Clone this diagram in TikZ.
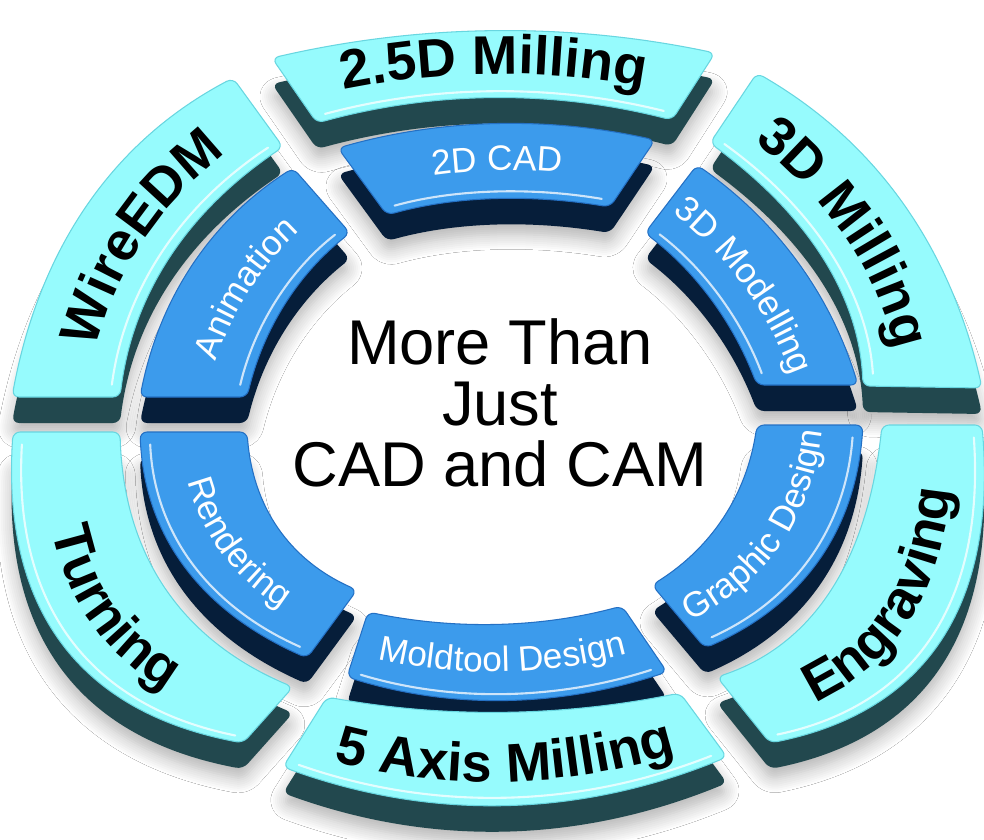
\documentclass[tikz,border=0pt]{standalone}
\usepackage{fontspec}
\setmainfont{Liberation Sans}
\usetikzlibrary{calc, positioning, decorations.text, shadows.blur}

\definecolor{cam-top}{RGB}{150,251,253}
\definecolor{cam-edge}{RGB}{104,214,224}
\definecolor{cam-wall}{RGB}{34,72,78}
\definecolor{cad-top}{RGB}{60,155,236}
\definecolor{cad-edge}{RGB}{36,112,196}
\definecolor{cad-wall}{RGB}{6,30,58}

\tikzstyle{cam-face} = [fill=cam-top, draw=cam-edge, line width=0.6pt, rounded corners=4pt]
\tikzstyle{cam-side} = [fill=cam-wall, rounded corners=4pt, transform canvas={yshift=-0.52cm}]
\tikzstyle{cad-face} = [fill=cad-top, draw=cad-edge, line width=0.6pt, rounded corners=4pt]
\tikzstyle{cad-side} = [fill=cad-wall, rounded corners=4pt, transform canvas={yshift=-0.52cm}]
\tikzstyle{drop-shadow} = [
  rounded corners=4pt,
  blur shadow={shadow xshift=0pt, shadow yshift=-0.72cm, shadow blur radius=0.3cm, shadow blur steps=8, shadow opacity=30}
]
\tikzstyle{glint} = [draw=white, opacity=0.75, line width=1.2pt, line cap=round, shorten <=0.25cm, shorten >=0.25cm]

\newcommand{\camfont}{\fontsize{31}{36}\selectfont\bfseries}
\newcommand{\cadfont}{\fontsize{20}{24}\selectfont}

\newcommand{\setseg}[7]{%
  \coordinate (#1-oa) at (#2); \coordinate (#1-om) at (#3); \coordinate (#1-ob) at (#4);
  \coordinate (#1-ia) at (#5); \coordinate (#1-im) at (#6); \coordinate (#1-ib) at (#7);}

\newcommand{\ringshadow}[1]{%
  \path[drop-shadow] (#1-oa) .. controls ($1.3333*(#1-om)-0.3333*(#1-ob)$) and ($1.3333*(#1-om)-0.3333*(#1-oa)$) .. (#1-ob)
    -- (#1-ib) .. controls ($1.3333*(#1-im)-0.3333*(#1-ia)$) and ($1.3333*(#1-im)-0.3333*(#1-ib)$) .. (#1-ia) -- cycle;}

\newcommand{\ringpiece}[4]{%
  \path[#2-side] (#1-oa) .. controls ($1.3333*(#1-om)-0.3333*(#1-ob)$) and ($1.3333*(#1-om)-0.3333*(#1-oa)$) .. (#1-ob)
    -- (#1-ib) .. controls ($1.3333*(#1-im)-0.3333*(#1-ia)$) and ($1.3333*(#1-im)-0.3333*(#1-ib)$) .. (#1-ia) -- cycle;
  \path[#2-face] (#1-oa) .. controls ($1.3333*(#1-om)-0.3333*(#1-ob)$) and ($1.3333*(#1-om)-0.3333*(#1-oa)$) .. (#1-ob)
    -- (#1-ib) .. controls ($1.3333*(#1-im)-0.3333*(#1-ia)$) and ($1.3333*(#1-im)-0.3333*(#1-ib)$) .. (#1-ia) -- cycle;
  \coordinate (#1-ha) at ($(#1-#3a)!0.09!(#1-#4a)$);
  \coordinate (#1-hm) at ($(#1-#3m)!0.09!(#1-#4m)$);
  \coordinate (#1-hb) at ($(#1-#3b)!0.09!(#1-#4b)$);
  \draw[glint] (#1-ha) .. controls ($1.3333*(#1-hm)-0.3333*(#1-hb)$) and ($1.3333*(#1-hm)-0.3333*(#1-ha)$) .. (#1-hb);}

\newcommand{\ringlabel}[5]{%
  \coordinate (#1-ta) at ($(#1-ia)!#2!(#1-oa)$);
  \coordinate (#1-tm) at ($(#1-im)!#2!(#1-om)$);
  \coordinate (#1-tb) at ($(#1-ib)!#2!(#1-ob)$);
  \path[decorate, decoration={text along path, text align=center, text color=#4, text={|#3|#5}}]
    (#1-ta) .. controls ($1.3333*(#1-tm)-0.3333*(#1-tb)$) and ($1.3333*(#1-tm)-0.3333*(#1-ta)$) .. (#1-tb);}

\begin{document}
\begin{tikzpicture}[x=0.02cm, y=-0.02cm]
    \useasboundingbox (0,0) rectangle (984,839);
    \fill[white] (0,0) rectangle (984,839);

    \setseg{mill25}{272,58}{494,31}{715,53}{317,123}{494,98}{672,120}
    \setseg{mill3d}{757,73}{902,203}{982,388}{710,143}{822,258}{863,386}
    \setseg{wire}{12,397}{88,205}{233,78}{120,397}{170,258}{283,147}
    \setseg{engr}{770,743}{940,640}{982,425}{717,677}{830,590}{882,425}
    \setseg{turn}{13,432}{62,642}{243,743}{120,432}{166,588}{293,687}
    \setseg{axis5}{283,767}{505,805}{727,757}{327,697}{503,712}{680,693}
    \setseg{cad2d}{338,148}{495,124}{655,140}{387,215}{493,199}{610,207}
    \setseg{model3d}{697,165}{797,262}{858,385}{645,233}{711,300}{757,385}
    \setseg{anim}{140,397}{193,265}{293,168}{247,397}{285,305}{350,233}
    \setseg{graph}{705,648}{818,560}{863,425}{652,585}{723,517}{757,425}
    \setseg{rend}{140,432}{185,566}{307,658}{247,432}{279,528}{357,590}
    \setseg{mold}{347,677}{505,700}{667,672}{368,612}{497,624}{622,606}

    \foreach \piece in {mill25, mill3d, wire, engr, turn, axis5, cad2d, model3d, anim, graph, rend, mold}
      \ringshadow{\piece};

    \ringpiece{mill25}{cam}{i}{o}
    \ringpiece{mill3d}{cam}{i}{o}
    \ringpiece{wire}{cam}{i}{o}
    \ringpiece{cad2d}{cad}{i}{o}
    \ringpiece{model3d}{cad}{i}{o}
    \ringpiece{anim}{cad}{i}{o}
    \ringpiece{graph}{cad}{o}{i}
    \ringpiece{rend}{cad}{o}{i}
    \ringpiece{mold}{cad}{o}{i}
    \ringpiece{engr}{cam}{o}{i}
    \ringpiece{turn}{cam}{o}{i}
    \ringpiece{axis5}{cam}{o}{i}

    \ringlabel{mill25}{0.36}{\camfont}{black}{2.5D Milling}
    \ringlabel{mill3d}{0.32}{\camfont}{black}{3D Milling}
    \ringlabel{wire}{0.32}{\camfont}{black}{WireEDM}
    \ringlabel{engr}{0.7}{\camfont}{black}{Engraving}
    \ringlabel{turn}{0.7}{\camfont}{black}{Turning}
    \ringlabel{axis5}{0.75}{\camfont}{black}{5 Axis Milling}
    \ringlabel{cad2d}{0.38}{\cadfont}{white}{2D CAD}
    \ringlabel{model3d}{0.38}{\cadfont}{white}{3D Modelling}
    \ringlabel{anim}{0.38}{\cadfont}{white}{Animation}
    \ringlabel{graph}{0.62}{\cadfont}{white}{Graphic Design}
    \ringlabel{rend}{0.62}{\cadfont}{white}{Rendering}
    \ringlabel{mold}{0.63}{\cadfont}{white}{Moldtool Design}

    \node (center-title) at (500,403) [align=center, inner sep=0pt, font=\fontsize{36}{34.6}\selectfont] {More Than\\Just\\CAD and CAM};
\end{tikzpicture}
\end{document}
